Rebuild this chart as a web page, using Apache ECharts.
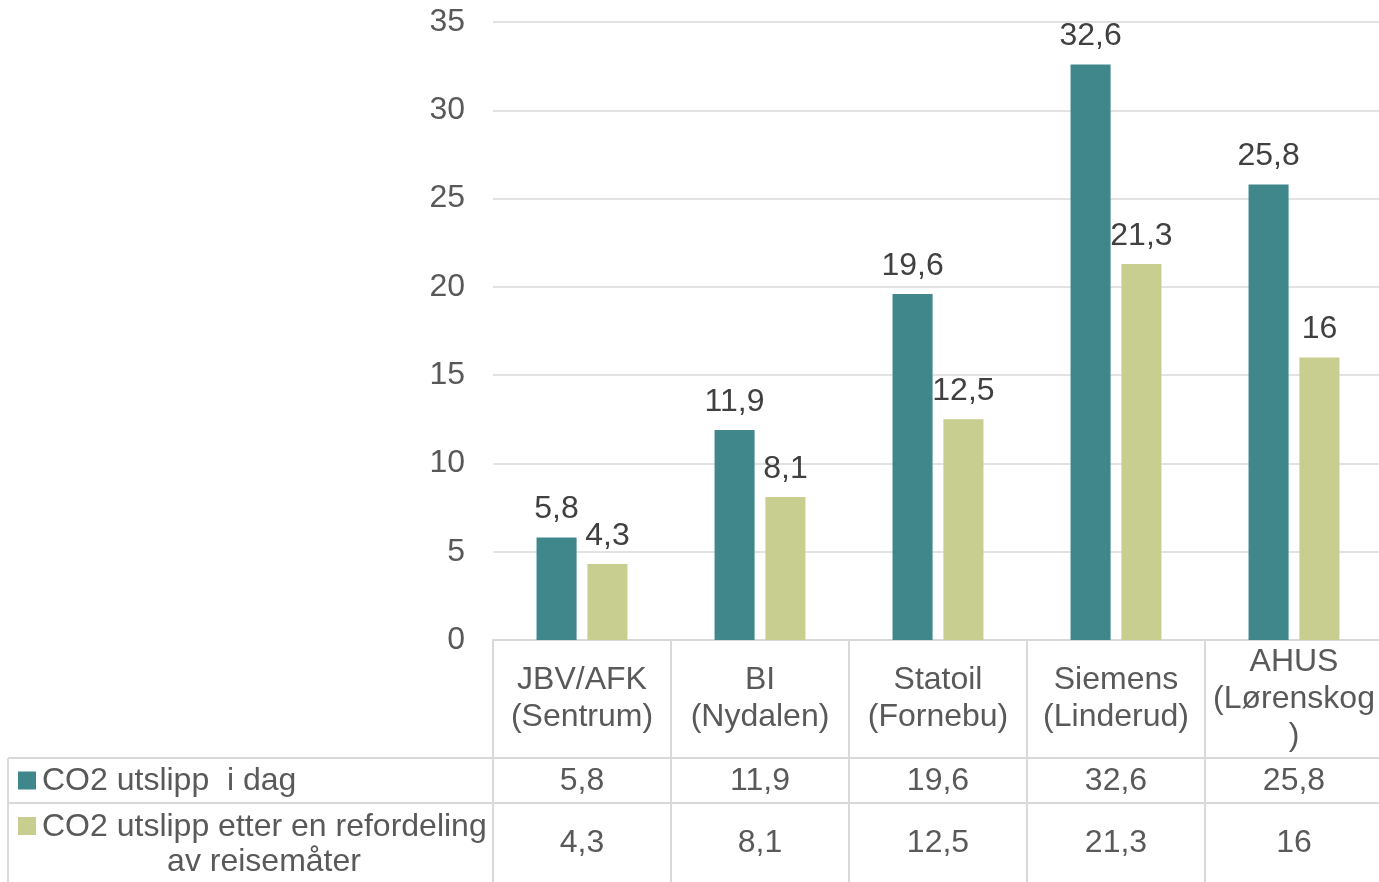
<!DOCTYPE html>
<html>
<head>
<meta charset="utf-8">
<script src="https://cdn.jsdelivr.net/npm/echarts@6/dist/echarts.min.js"></script>
<style>
  html, body { margin: 0; padding: 0; background: #fff; }
  #chart { width: 1379px; height: 882px; }
</style>
</head>
<body>
<div id="chart"></div>
<script>
// data
const categories = ['JBV/AFK\n(Sentrum)', 'BI\n(Nydalen)', 'Statoil\n(Fornebu)', 'Siemens\n(Linderud)', 'AHUS\n(Lørenskog\n)']
const seriesNames = ['CO2 utslipp  i dag', 'CO2 utslipp etter en refordeling\nav reisemåter']
const utslippIDag = [5.8, 11.9, 19.6, 32.6, 25.8]
const utslippEtter = [4.3, 8.1, 12.5, 21.3, 16]
const colors = ['#3F878A', '#C8CE8F']

const font = 'Liberation Sans, Arial, sans-serif'
const fmt = v => String(v).replace('.', ',')

const chart = echarts.init(document.getElementById('chart'))
const barLabel = {
  show: true, position: 'top', distance: 12,
  color: '#404040', fontSize: 32, fontFamily: font,
  formatter: p => fmt(p.value)
}
const option = {
  animation: false,
  textStyle: { fontFamily: font },
  grid: { left: 493, width: 890, top: 22, bottom: 242, outerBoundsMode: 'none' },
  xAxis: {
    type: 'category',
    data: categories,
    axisLine: { lineStyle: { color: '#D9D9D9', width: 2 } },
    axisTick: { show: false },
    axisLabel: { show: false }
  },
  yAxis: {
    type: 'value',
    min: 0,
    max: 35,
    interval: 5,
    axisLine: { show: false },
    axisTick: { show: false },
    axisLabel: { color: '#595959', fontSize: 32, margin: 28, fontFamily: font },
    splitLine: { lineStyle: { color: '#D9D9D9', width: 1.5 } }
  },
  series: [
    {
      name: seriesNames[0],
      type: 'bar',
      data: utslippIDag,
      barWidth: '22.5%',
      barGap: '27%',
      itemStyle: { color: colors[0] },
      label: barLabel
    },
    {
      name: seriesNames[1],
      type: 'bar',
      data: utslippEtter,
      barWidth: '22.5%',
      barGap: '27%',
      itemStyle: { color: colors[1] },
      label: barLabel
    }
  ]
}
chart.setOption(option)

// data table under the plot
const centers = categories.map(c => chart.convertToPixel({ xAxisIndex: 0 }, c))
const band = centers[1] - centers[0]
const y0 = chart.convertToPixel({ yAxisIndex: 0 }, 0)
const rowA = y0 + 118
const rowB = rowA + 45
const rowEnd = 882
const tableLeft = 8
const lineStyle = { stroke: '#D9D9D9', lineWidth: 2 }
const txt = { fill: '#595959', fontSize: 32, fontFamily: font }
const g = []

const bounds = centers.map(c => c - band / 2).concat([centers[centers.length - 1] + band / 2])
bounds.forEach(x => {
  g.push({ type: 'line', shape: { x1: x, y1: y0, x2: x, y2: rowEnd }, style: lineStyle, silent: true })
})
g.push({ type: 'line', shape: { x1: tableLeft, y1: rowA, x2: bounds[bounds.length - 1], y2: rowA }, style: lineStyle })
g.push({ type: 'line', shape: { x1: tableLeft, y1: rowB, x2: bounds[bounds.length - 1], y2: rowB }, style: lineStyle })
g.push({ type: 'line', shape: { x1: tableLeft, y1: rowA, x2: tableLeft, y2: rowEnd }, style: lineStyle })

centers.forEach((c, i) => {
  g.push({ type: 'text', x: c, y: (y0 + rowA) / 2, style: { ...txt, text: categories[i], align: 'center', verticalAlign: 'middle', lineHeight: 37 } })
  g.push({ type: 'text', x: c, y: (rowA + rowB) / 2 + 1, style: { ...txt, text: fmt(utslippIDag[i]), align: 'center', verticalAlign: 'middle' } })
  g.push({ type: 'text', x: c, y: (rowB + rowEnd) / 2 + 1, style: { ...txt, text: fmt(utslippEtter[i]), align: 'center', verticalAlign: 'middle' } })
})

// legend keys inside the table
g.push({ type: 'rect', shape: { x: 18, y: (rowA + rowB) / 2 - 9, width: 18, height: 18 }, style: { fill: colors[0] } })
g.push({ type: 'text', x: 42, y: (rowA + rowB) / 2 + 1, style: { ...txt, text: seriesNames[0], align: 'left', verticalAlign: 'middle' } })
const lines2 = seriesNames[1].split('\n')
g.push({ type: 'rect', shape: { x: 18, y: rowB + 14, width: 18, height: 18 }, style: { fill: colors[1] } })
g.push({ type: 'text', x: 42, y: rowB + 24, style: { ...txt, text: lines2[0], align: 'left', verticalAlign: 'middle' } })
g.push({ type: 'text', x: 264, y: rowB + 59, style: { ...txt, text: lines2[1], align: 'center', verticalAlign: 'middle' } })

chart.setOption({ graphic: g })
</script>
</body>
</html>
